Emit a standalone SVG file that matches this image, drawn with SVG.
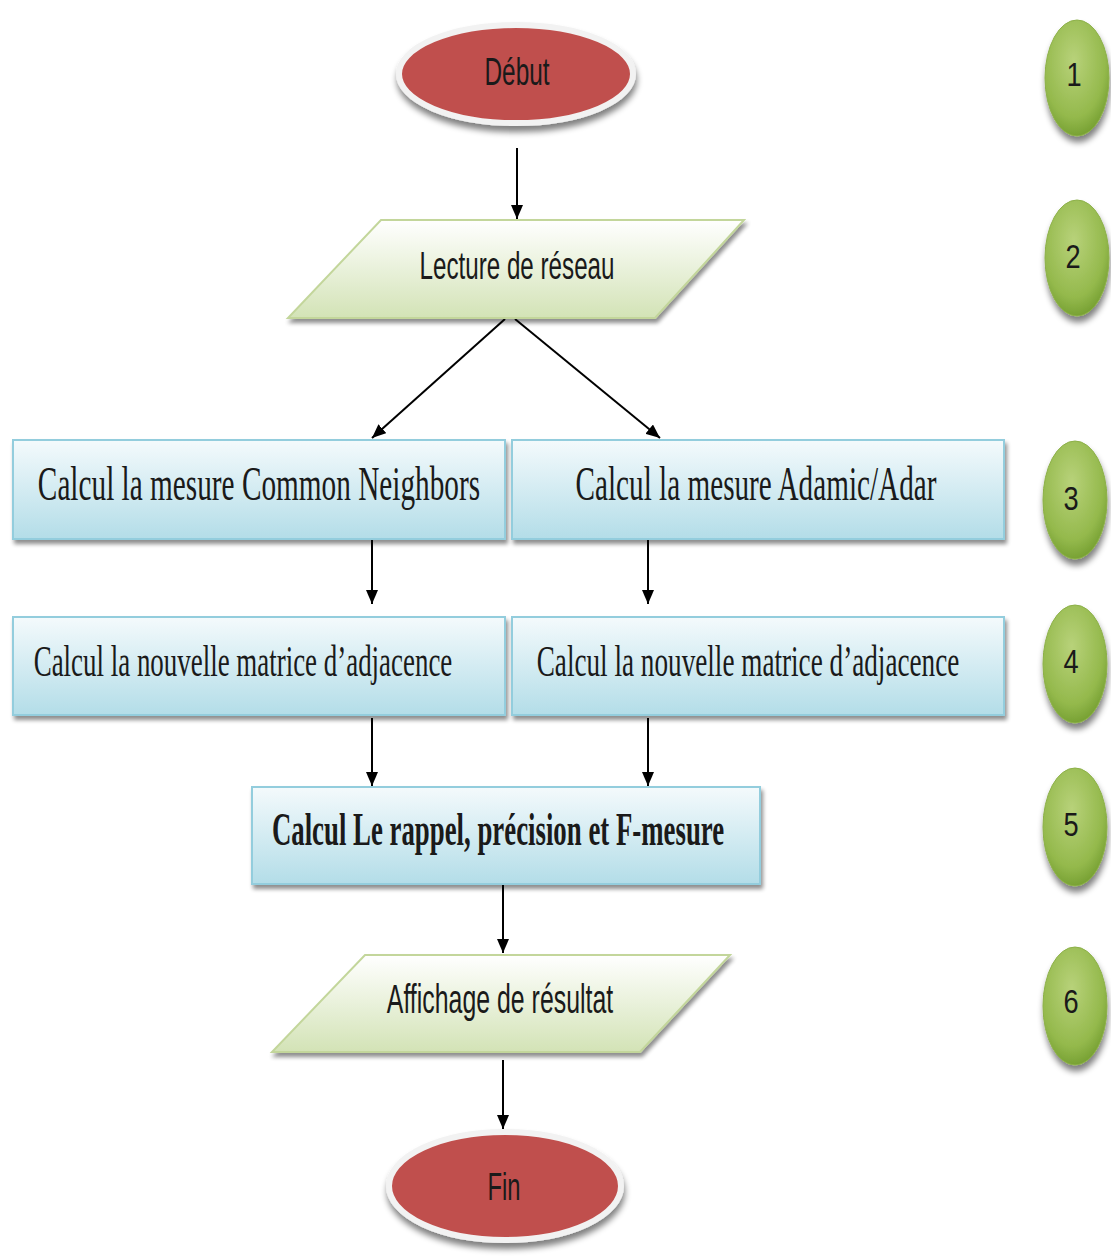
<svg xmlns="http://www.w3.org/2000/svg" width="1111" height="1256" viewBox="0 0 1111 1256">
  <defs>
    <linearGradient id="boxFill" x1="0" y1="0" x2="0" y2="1">
      <stop offset="0" stop-color="#f4fafc"/>
      <stop offset="1" stop-color="#b3dde8"/>
    </linearGradient>
    <linearGradient id="paraFill" x1="0" y1="0" x2="0" y2="1">
      <stop offset="0" stop-color="#ffffff"/>
      <stop offset="1" stop-color="#d3e3b6"/>
    </linearGradient>
    <radialGradient id="greenFill" cx="0.45" cy="0.35" r="0.7">
      <stop offset="0" stop-color="#b8d27a"/>
      <stop offset="0.7" stop-color="#94b94c"/>
      <stop offset="1" stop-color="#6f9a2c"/>
    </radialGradient>
    <filter id="shadow" x="-10%" y="-10%" width="125%" height="130%">
      <feGaussianBlur in="SourceAlpha" stdDeviation="2"/>
      <feOffset dx="2" dy="4" result="b"/>
      <feComponentTransfer><feFuncA type="linear" slope="0.45"/></feComponentTransfer>
      <feMerge><feMergeNode/><feMergeNode in="SourceGraphic"/></feMerge>
    </filter>
    <filter id="softShadow" x="-20%" y="-20%" width="140%" height="150%">
      <feGaussianBlur in="SourceAlpha" stdDeviation="3"/>
      <feOffset dx="1" dy="6" result="b"/>
      <feComponentTransfer><feFuncA type="linear" slope="0.5"/></feComponentTransfer>
      <feMerge><feMergeNode/><feMergeNode in="SourceGraphic"/></feMerge>
    </filter>
    <marker id="arrow" viewBox="0 0 14 12" refX="14" refY="6" markerWidth="14" markerHeight="12" orient="auto" markerUnits="userSpaceOnUse">
      <path d="M0,0 L14,6 L0,12 z" fill="#000"/>
    </marker>
  </defs>
  <style>
    .box { fill: url(#boxFill); stroke: #93cddd; stroke-width: 2; filter: url(#shadow); }
    .para { fill: url(#paraFill); stroke: #c3d69b; stroke-width: 2; filter: url(#shadow); }
    .term { fill: #c0504d; stroke: #f2f2f2; stroke-width: 6; filter: url(#softShadow); }
    .num { fill: url(#greenFill); stroke: #8cb048; stroke-width: 1; filter: url(#softShadow); }
    .serif { font-family: "Liberation Serif", "Times New Roman", serif; fill: #1a1a1a; text-anchor: middle; }
    .sans { font-family: "Liberation Sans", Arial, sans-serif; fill: #1a1a1a; text-anchor: middle; }
    .conn line { stroke: #000; stroke-width: 2; marker-end: url(#arrow); }
  </style>

  <g id="connectors" class="conn">
    <line x1="517" y1="148" x2="517" y2="219"/>
    <line x1="505" y1="319" x2="372" y2="438"/>
    <line x1="515" y1="319" x2="660" y2="438"/>
    <line x1="372" y1="536" x2="372" y2="604"/>
    <line x1="648" y1="536" x2="648" y2="604"/>
    <line x1="372" y1="718" x2="372" y2="786"/>
    <line x1="648" y1="718" x2="648" y2="786"/>
    <line x1="503" y1="884" x2="503" y2="953"/>
    <line x1="503" y1="1060" x2="503" y2="1129"/>
  </g>

  <!-- condensed labels: horizontal scale applied around each label's centre -->
  <g id="debut">
    <ellipse class="term" cx="516" cy="74" rx="117" ry="49"/>
    <text class="sans" transform="translate(517 85) scale(0.625 1)" font-size="39">Début</text>
  </g>

  <g id="lecture">
    <polygon class="para" points="381,220 744,220 655,318 288,318"/>
    <text class="sans" transform="translate(517 279) scale(0.637 1)" font-size="38">Lecture de réseau</text>
  </g>

  <g id="common-neighbors">
    <rect class="box" x="13" y="440" width="492" height="99"/>
    <text class="serif" transform="translate(259 500) scale(0.61 1)" font-size="48">Calcul la mesure Common Neighbors</text>
  </g>

  <g id="adamic-adar">
    <rect class="box" x="512" y="440" width="492" height="99"/>
    <text class="serif" transform="translate(756 500) scale(0.609 1)" font-size="48">Calcul la mesure Adamic/Adar</text>
  </g>

  <g id="matrice-left">
    <rect class="box" x="13" y="617" width="492" height="98"/>
    <text class="serif" transform="translate(243 676) scale(0.612 1)" font-size="44">Calcul la nouvelle matrice d’adjacence</text>
  </g>

  <g id="matrice-right">
    <rect class="box" x="512" y="617" width="492" height="98"/>
    <text class="serif" transform="translate(748 676) scale(0.618 1)" font-size="44">Calcul la nouvelle matrice d’adjacence</text>
  </g>

  <g id="rappel">
    <rect class="box" x="252" y="787" width="508" height="97"/>
    <text class="serif" transform="translate(498 845) scale(0.583 1)" font-size="46" font-weight="bold">Calcul Le rappel, précision et F-mesure</text>
  </g>

  <g id="affichage">
    <polygon class="para" points="365,955 730,955 640,1052 272,1052"/>
    <text class="sans" transform="translate(500 1013) scale(0.607 1)" font-size="41">Affichage de résultat</text>
  </g>

  <g id="fin">
    <ellipse class="term" cx="505" cy="1186" rx="116" ry="54"/>
    <text class="sans" transform="translate(504 1200) scale(0.625 1)" font-size="38">Fin</text>
  </g>

  <g id="step-1"><ellipse class="num" cx="1077" cy="78" rx="32" ry="58"/><text class="sans" transform="translate(1074 86) scale(0.8 1)" font-size="34">1</text></g>
  <g id="step-2"><ellipse class="num" cx="1077" cy="258" rx="32" ry="58"/><text class="sans" transform="translate(1073 268) scale(0.8 1)" font-size="34">2</text></g>
  <g id="step-3"><ellipse class="num" cx="1075" cy="500" rx="32" ry="59"/><text class="sans" transform="translate(1071 510) scale(0.8 1)" font-size="34">3</text></g>
  <g id="step-4"><ellipse class="num" cx="1075" cy="664" rx="32" ry="59"/><text class="sans" transform="translate(1071 673) scale(0.8 1)" font-size="34">4</text></g>
  <g id="step-5"><ellipse class="num" cx="1075" cy="827" rx="32" ry="59"/><text class="sans" transform="translate(1071 836) scale(0.8 1)" font-size="34">5</text></g>
  <g id="step-6"><ellipse class="num" cx="1075" cy="1006" rx="32" ry="59"/><text class="sans" transform="translate(1071 1013) scale(0.8 1)" font-size="34">6</text></g>
</svg>
